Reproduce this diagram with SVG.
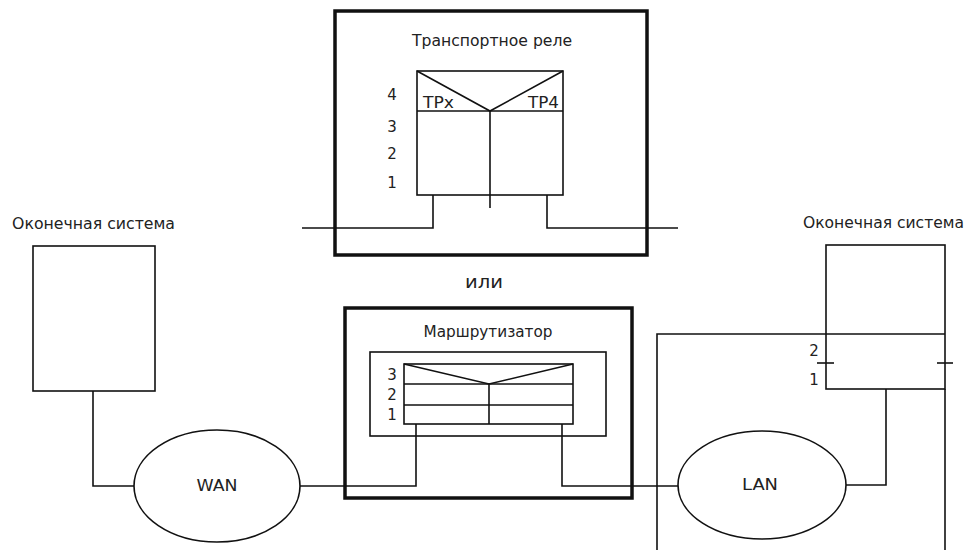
<svg xmlns="http://www.w3.org/2000/svg" width="970" height="550" viewBox="0 0 970 550">
<style>
  .ln{fill:none;stroke:#111;stroke-width:1.6}
  .thick{fill:none;stroke:#111;stroke-width:3.5}
  .t{font-family:"DejaVu Sans","Liberation Sans",Arial,sans-serif;font-size:15px;fill:#222}
  .c{text-anchor:middle}
</style>
<rect width="970" height="550" fill="#fff"/>

<g id="relay">
  <rect class="thick" x="335" y="11" width="312" height="244"/>
  <text class="t c" x="492" y="46" textLength="160" lengthAdjust="spacingAndGlyphs">Транспортное реле</text>
  <rect class="ln" x="417" y="71" width="146" height="124"/>
  <line class="ln" x1="417" y1="111" x2="563" y2="111"/>
  <polyline class="ln" points="417,71 490,111 563,71"/>
  <line class="ln" x1="490" y1="111" x2="490" y2="208"/>
  <text class="t" x="423" y="108" textLength="31" lengthAdjust="spacingAndGlyphs">TPx</text>
  <text class="t" x="528" y="108" textLength="31" lengthAdjust="spacingAndGlyphs">TP4</text>
  <text class="t c" x="392" y="100">4</text>
  <text class="t c" x="392" y="132">3</text>
  <text class="t c" x="392" y="159">2</text>
  <text class="t c" x="392" y="188">1</text>
  <polyline class="ln" points="433,195 433,228 302,228"/>
  <polyline class="ln" points="547,195 547,228 678,228"/>
</g>

<text class="t c" x="484" y="288" style="font-size:17px" textLength="38" lengthAdjust="spacingAndGlyphs">или</text>

<g id="router">
  <rect class="thick" x="345" y="308" width="287" height="190"/>
  <text class="t c" x="488" y="337" textLength="129" lengthAdjust="spacingAndGlyphs">Маршрутизатор</text>
  <rect class="ln" x="370" y="352" width="236" height="84"/>
  <rect class="ln" x="404" y="364" width="169" height="60"/>
  <line class="ln" x1="404" y1="384" x2="573" y2="384"/>
  <line class="ln" x1="404" y1="405" x2="573" y2="405"/>
  <polyline class="ln" points="404,364 489,384 573,364"/>
  <line class="ln" x1="489" y1="384" x2="489" y2="424"/>
  <text class="t c" x="392" y="380">3</text>
  <text class="t c" x="392" y="400">2</text>
  <text class="t c" x="392" y="420">1</text>
</g>

<g id="es-left">
  <text class="t" x="12" y="229" textLength="163" lengthAdjust="spacingAndGlyphs">Оконечная система</text>
  <rect class="ln" x="33" y="246" width="122" height="145"/>
</g>

<g id="wan">
  <ellipse class="ln" cx="217" cy="486" rx="83" ry="56"/>
  <text class="t c" x="217" y="491" textLength="41" lengthAdjust="spacingAndGlyphs">WAN</text>
</g>

<g id="lan">
  <ellipse class="ln" cx="762" cy="485" rx="84" ry="54"/>
  <text class="t c" x="760" y="490" textLength="36" lengthAdjust="spacingAndGlyphs">LAN</text>
</g>

<g id="es-right">
  <text class="t" x="803" y="228" textLength="161" lengthAdjust="spacingAndGlyphs">Оконечная система</text>
  <rect class="ln" x="826" y="245" width="119" height="144"/>
  <line class="ln" x1="817" y1="363" x2="834" y2="363"/>
  <line class="ln" x1="937" y1="363" x2="953" y2="363"/>
  <text class="t c" x="814" y="356">2</text>
  <text class="t c" x="814" y="385">1</text>
</g>

<g id="connectors">
  <polyline class="ln" points="93,391 93,486 134,486"/>
  <polyline class="ln" points="300,486 416,486 416,424"/>
  <polyline class="ln" points="562,424 562,486 678,486"/>
  <polyline class="ln" points="886,389 886,485 846,485"/>
  <polyline class="ln" points="657,550 657,334 945,334"/>
  <line class="ln" x1="945" y1="389" x2="945" y2="550"/>
</g>
</svg>
